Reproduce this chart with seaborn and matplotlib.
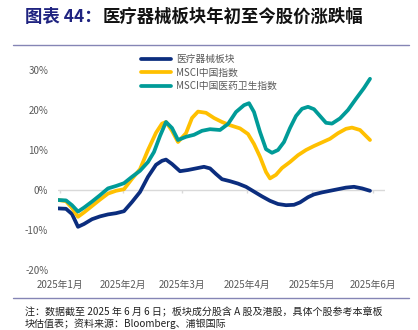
import matplotlib
matplotlib.use("Agg")
import matplotlib.pyplot as plt
import seaborn as sns
import pandas as pd
from matplotlib.lines import Line2D

sns.set_theme(style="white")
plt.rcParams['font.family'] = ['Noto Sans CJK SC', 'DejaVu Sans']

# ---------------- data ----------------
series_names = ["医疗器械板块", "MSCI中国指数", "MSCI中国医药卫生指数"]

days_med = [0, 4, 7, 10, 13, 17, 21, 25, 29, 33, 37, 41, 45, 49, 52, 54, 57, 61, 65, 69, 73, 76,
            79, 82, 86, 90, 94, 98, 102, 106, 110, 114, 118, 121, 125, 128, 132, 136, 140, 144,
            148, 152, 156]
vals_med = [-4.6, -4.7, -6.0, -9.2, -8.5, -7.3, -6.6, -6.1, -5.8, -5.3, -3.0, -0.5, 3.3, 6.3, 7.3,
            7.6, 6.5, 4.7, 5.0, 5.4, 5.8, 5.4, 4.0, 2.7, 2.2, 1.6, 0.8, -0.4, -1.6, -2.7, -3.5, -3.8,
            -3.7, -3.1, -1.8, -1.1, -0.6, -0.2, 0.2, 0.6, 0.8, 0.4, -0.2]

days_china = [0, 4, 7, 10, 13, 17, 21, 25, 29, 33, 37, 41, 45, 49, 52, 54, 57, 60, 64, 67, 70, 74,
              78, 82, 86, 91, 95, 98, 101, 104, 106, 109, 112, 116, 120, 124, 128, 132, 136, 140,
              144, 147, 151, 154, 156]
vals_china = [-2.5, -2.8, -4.5, -6.7, -5.6, -4.0, -2.4, -0.9, -0.2, 0.2, 2.8, 5.2, 10.0, 14.3, 16.6,
              17.0, 14.8, 12.0, 14.2, 18.0, 19.6, 19.3, 18.0, 17.0, 16.2, 15.4, 14.0, 11.5, 8.3, 4.5,
              2.9, 3.8, 5.5, 7.0, 8.7, 10.0, 11.0, 11.9, 12.8, 14.2, 15.3, 15.6, 15.0, 13.5, 12.5]

days_hc = [0, 4, 7, 10, 13, 17, 21, 25, 29, 33, 37, 41, 45, 48, 51, 54, 57, 60, 64, 68, 72, 76, 81,
           85, 89, 93, 95.5, 98, 101, 104, 107, 110, 113, 116, 119, 122, 125, 128, 131, 134, 137,
           141, 145, 149, 153, 156]
vals_hc = [-2.5, -2.6, -3.8, -5.4, -4.4, -2.9, -1.3, 0.4, 1.0, 1.7, 3.3, 4.8, 7.0, 9.5, 13.5, 17.0,
           15.5, 12.5, 13.3, 13.8, 14.8, 15.2, 15.0, 16.5, 19.5, 21.2, 21.7, 19.5, 14.5, 10.2, 9.3,
           10.0, 12.0, 15.5, 18.5, 20.3, 20.8, 20.2, 18.5, 16.8, 16.6, 17.9, 20.0, 22.8, 25.5, 27.8]

month_ticks = [1, 32.5, 62, 94.5, 127, 157.5]
month_labels = ["2025年1月", "2025年2月", "2025年3月", "2025年4月", "2025年5月", "2025年6月"]
y_ticks = [-20, -10, 0, 10, 20, 30]
y_labels = ["-20%", "-10%", "0%", "10%", "20%", "30%"]

colors = ["#0B2D7E", "#FFC000", "#009B98"]

df = pd.concat([
    pd.DataFrame({"day": days_med, "value": vals_med, "series": series_names[0]}),
    pd.DataFrame({"day": days_china, "value": vals_china, "series": series_names[1]}),
    pd.DataFrame({"day": days_hc, "value": vals_hc, "series": series_names[2]}),
], ignore_index=True)

# ---------------- figure ----------------
W, H = 418, 330
fig = plt.figure(figsize=(W / 100, H / 100), dpi=100)
fig.patch.set_facecolor("white")
ax = fig.add_axes([58 / W, 1 - 270 / H, (385 - 58) / W, (270 - 70) / H])
ax.set_facecolor("white")

ax.axhline(0, color="#D9D9D9", lw=1.0, zorder=0)
ax.vlines(month_ticks, -0.8, 0, color="#D9D9D9", lw=1.0, zorder=0)

sns.lineplot(data=df, x="day", y="value", hue="series", hue_order=series_names,
             palette=colors, linewidth=2.7, ax=ax, legend=False, zorder=3,
             solid_capstyle="round", solid_joinstyle="round")

ax.set_xlim(0, 163.5)
ax.set_ylim(-20, 30)
ax.set_xticks(month_ticks)
ax.set_xticklabels(month_labels)
ax.set_yticks(y_ticks)
ax.set_yticklabels(y_labels)
ax.tick_params(axis="both", length=0, labelsize=7, labelcolor="#595959")
ax.tick_params(axis="x", pad=7)
ax.tick_params(axis="y", pad=7)
ax.set_xlabel("")
ax.set_ylabel("")
for s in ax.spines.values():
    s.set_visible(False)
ax.grid(False)

handles = [Line2D([], [], color=c, lw=2.7, solid_capstyle="round") for c in colors]
fig.legend(handles, series_names, loc="upper left",
           bbox_to_anchor=(141 / W, 1 - 54 / H), frameon=False, fontsize=7,
           labelcolor="#595959", handlelength=3.1, handletextpad=0.5,
           labelspacing=0.38, borderpad=0, borderaxespad=0)

# title
t1 = fig.text(25 / W, 1 - 17 / H, "图表 44：", fontsize=12.5, fontweight="bold",
              color="#1F2380", va="center", ha="left")
fig.canvas.draw()
bb = t1.get_window_extent(fig.canvas.get_renderer())
fig.text(max(bb.x1 / W, 103 / W), 1 - 17 / H, "医疗器械板块年初至今股价涨跌幅", fontsize=12.5,
         fontweight="bold", color="#111111", va="center", ha="left")

# separator lines
fig.add_artist(Line2D([13 / W, 409 / W], [1 - 45 / H, 1 - 45 / H], color="#8585B5", lw=1.0))
fig.add_artist(Line2D([13 / W, 409 / W], [1 - 298 / H, 1 - 298 / H], color="#8585B5", lw=1.0))

# footnote
fig.text(25 / W, 1 - 312 / H, "注：数据截至 2025 年 6 月 6 日；板块成分股含 A 股及港股，具体个股参考本章板",
         fontsize=7.2, color="#222222", va="center", ha="left")
fig.text(25 / W, 1 - 324 / H, "块估值表；资料来源：Bloomberg、浦银国际",
         fontsize=7.2, color="#222222", va="center", ha="left")

fig.savefig("out.png", dpi=100, facecolor="white")
